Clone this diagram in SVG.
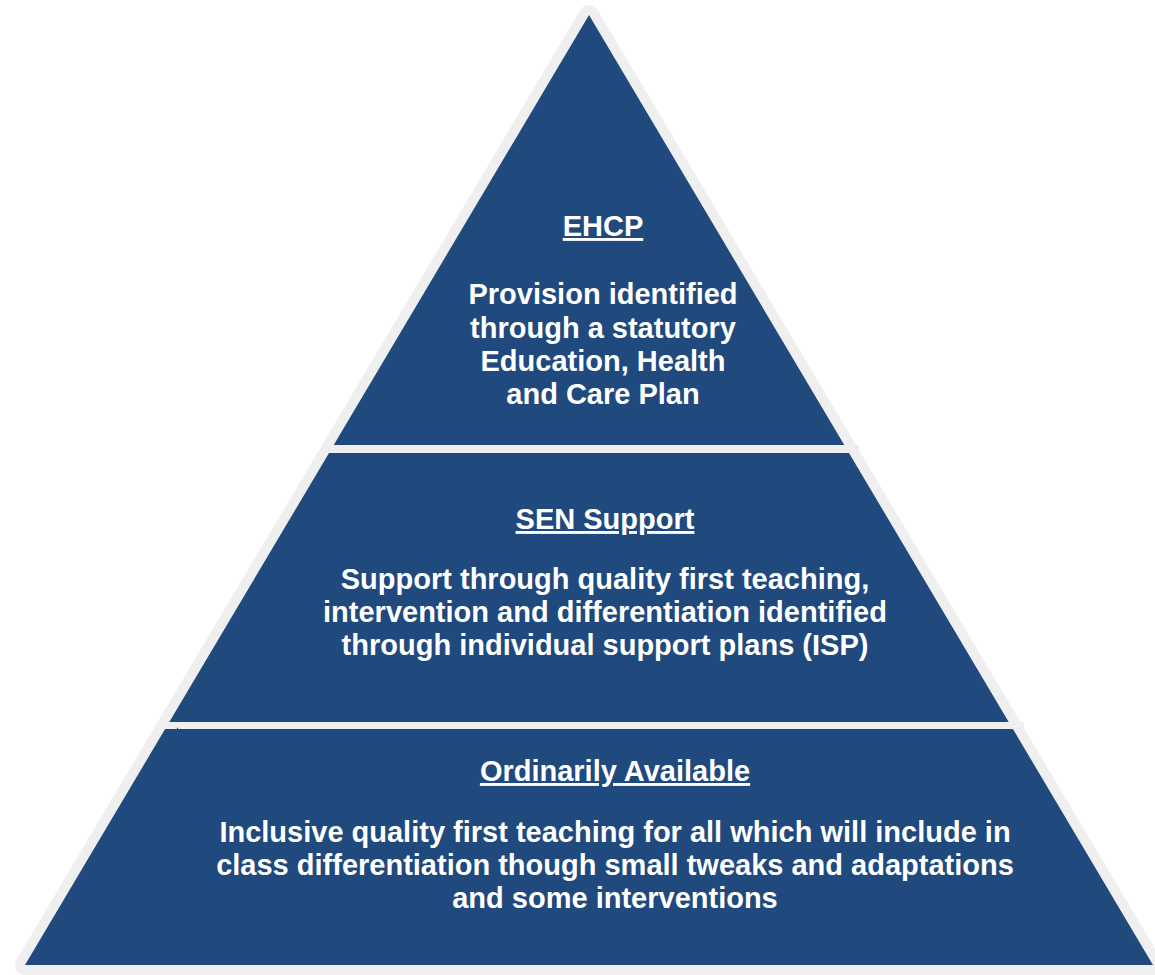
<svg xmlns="http://www.w3.org/2000/svg" width="1155" height="975" viewBox="0 0 1155 975">
  <style>
    .tier { fill: #204a7e; }
    .band { fill: #efefef; }
    .t { font-family: "Liberation Sans", Arial, sans-serif; font-weight: bold; font-size: 29px; fill: #ffffff; text-anchor: middle; }
    .h { text-decoration: underline; }
  </style>
  <rect x="0" y="0" width="1155" height="975" fill="#ffffff"/>
  <g id="outline">
    <polygon points="589,15 1153,965 25,965" fill="#204a7e" stroke="#efefef" stroke-width="20" stroke-linejoin="round"/>
  </g>
  <g id="tier-ehcp">
    <polygon class="tier" points="589,15 844.3,445 333.7,445"/>
    <text class="t h" x="603" y="236">EHCP</text>
    <text class="t" x="603" y="304">Provision identified</text>
    <text class="t" x="603" y="337.5">through a statutory</text>
    <text class="t" x="603" y="371">Education, Health</text>
    <text class="t" x="603" y="404">and Care Plan</text>
  </g>
  <g id="tier-sen">
    <polygon class="tier" points="329,453 849,453 1008.7,722 169.3,722"/>
    <text class="t h" x="605" y="529">SEN Support</text>
    <text class="t" x="605" y="589">Support through quality first teaching,</text>
    <text class="t" x="605" y="622">intervention and differentiation identified</text>
    <text class="t" x="605" y="655">through individual support plans (ISP)</text>
  </g>
  <g id="tier-ordinary">
    <polygon class="tier" points="165.1,729 1012.9,729 1153,965 25,965"/>
    <text class="t h" x="615" y="781">Ordinarily Available</text>
    <text class="t" x="615" y="842">Inclusive quality first teaching for all which will include in</text>
    <text class="t" x="615" y="875">class differentiation though small tweaks and adaptations</text>
    <text class="t" x="615" y="908">and some interventions</text>
  </g>
  <g id="connectors">
    <rect class="band" x="332" y="445" width="527" height="8"/>
    <rect class="band" x="178" y="722" width="846" height="7"/>
  </g>
</svg>
